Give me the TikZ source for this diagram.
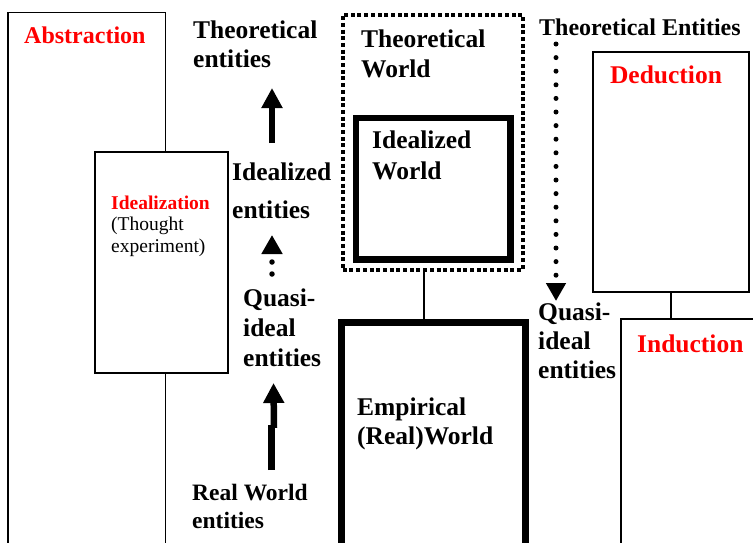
\documentclass[tikz,border=0pt]{standalone}
\usepackage{fontspec}
\setmainfont{Liberation Serif}
\usetikzlibrary{arrows.meta}
\begin{document}
\begin{tikzpicture}[x=1pt,y=-1pt,
  thinbox/.style={draw=black,line width=1.5pt,fill=white,inner sep=0pt,anchor=north west},
  thickbox/.style={draw=black,line width=6.5pt,fill=white,inner sep=0pt,anchor=north west},
  dotbox/.style={draw=black,line width=4.5pt,dash pattern=on 4pt off 2.7pt,inner sep=0pt,anchor=north west},
  lbl/.style={inner sep=0pt,anchor=base west,align=left,font=\bfseries\fontsize{25.5}{30}\selectfont},
  redlbl/.style={lbl,text=red},
  bigarrow/.style={line width=6.5pt,-{Triangle[length=20pt,width=20pt]}},
  shaft/.style={line width=6.5pt},
  dotarrow/.style={line width=5.5pt,line cap=round,dash pattern=on 0pt off 12pt,-{Triangle[length=19pt,width=20pt]}},
  conn/.style={draw=black,line width=1.5pt}
]
\useasboundingbox (0,0) rectangle (753,542);
\clip (0,0) rectangle (753,542);
\fill[white] (0,0) rectangle (753,542);
% left boxes
\node[thinbox,minimum width=157.5pt,minimum height=600pt] (abs) at (7,11.5) {};
\node[thinbox,minimum width=133pt,minimum height=221pt] (idz) at (94,151) {};
\node[redlbl,font=\bfseries\fontsize{24}{28}\selectfont] (abst) at (24,43) {Abstraction};
\node[inner sep=0pt,anchor=base west,align=left,font=\fontsize{19.5}{21.5}\selectfont] (idzt) at (111,252)
  {{\bfseries\color{red}Idealization}\\(Thought\\experiment)};
% middle column labels (anchor = baseline of last line)
\node[lbl,font=\bfseries\fontsize{25.5}{29}\selectfont] (te) at (193,67) {Theoretical\\entities};
\node[lbl,font=\bfseries\fontsize{25.5}{38}\selectfont] (ie) at (232,218) {Idealized\\entities};
\node[lbl] (qe) at (243,366) {Quasi-\\ideal\\entities};
\node[lbl,font=\bfseries\fontsize{23.5}{28}\selectfont] (rwe) at (192,528) {Real World\\entities};
% arrows middle
\coordinate (a1s) at (272,143);
\coordinate (a1e) at (272,88);
\draw[bigarrow] (a1s) -- (a1e);
\coordinate (a2s) at (272,274);
\coordinate (a2e) at (272,235);
\draw[dotarrow] (a2s) -- (a2e);
\coordinate (a3s) at (271.5,470);
\coordinate (a3m) at (271.5,425);
\coordinate (a3k) at (274,428);
\coordinate (a3e) at (273.5,383);
\draw[shaft] (a3s) -- (a3m);
\draw[bigarrow] (a3k) -- (a3e);
% worlds
\node[dotbox,minimum width=180pt,minimum height=255pt] (tw) at (340.5,12.5) {};
\node[thickbox,minimum width=154.5pt,minimum height=141.5pt] (iw) at (352.5,114.5) {};
\node[thickbox,line width=7pt,minimum width=183.5pt,minimum height=300pt] (ew) at (338,318.5) {};
\node[lbl] (twt) at (361,77) {Theoretical\\World};
\node[lbl,font=\bfseries\fontsize{25.5}{31}\selectfont] (iwt) at (372,179) {Idealized\\World};
\node[lbl,font=\bfseries\fontsize{25.5}{29}\selectfont] (ewt) at (357,444) {Empirical\\(Real)World};
\draw[conn] (tw.south -| 424,0) -- (ew.north -| 424,0);
% right column
\node[lbl,font=\bfseries\fontsize{24}{28}\selectfont] (tet) at (539,35) {Theoretical Entities};
\node[thinbox,minimum width=156pt,minimum height=240pt] (ded) at (592,51) {};
\node[thinbox,minimum width=200pt,minimum height=300pt] (ind) at (620,318) {};
\draw[conn] (ded.south -| 671,0) -- (ind.north -| 671,0);
\node[redlbl,anchor=base] (dedt) at (666,83) {Deduction};
\node[redlbl] (indt) at (637,352) {Induction};
\node[lbl,font=\bfseries\fontsize{25.5}{29}\selectfont] (qr) at (538,378) {Quasi-\\ideal\\entities};
\coordinate (a4s) at (556,44);
\coordinate (a4e) at (556,301);
\draw[dotarrow,line width=5pt,dash pattern=on 0pt off 13.6pt,-{Triangle[length=18pt,width=19pt]}] (a4s) -- (a4e);
\end{tikzpicture}
\end{document}
